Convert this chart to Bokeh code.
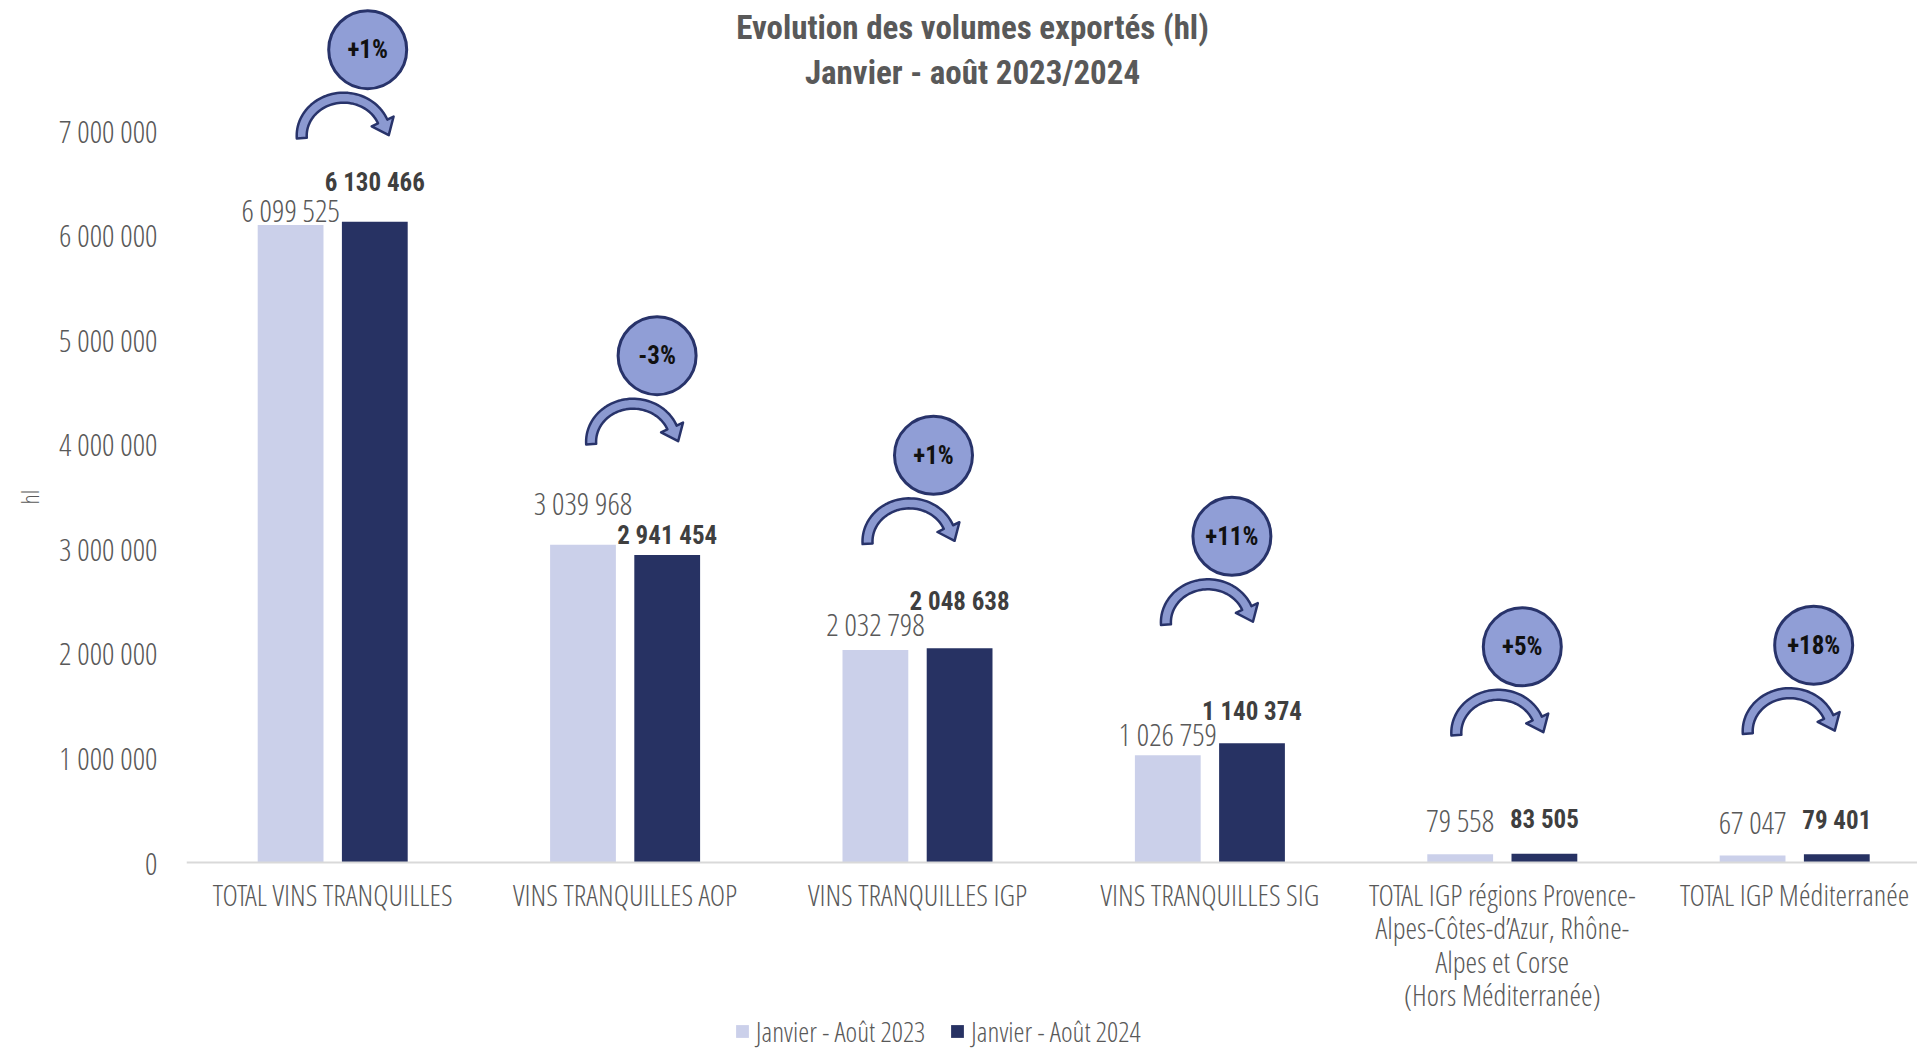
import numpy as np
from bokeh.plotting import figure
from bokeh.models import Range1d, FixedTicker, Legend, LegendItem, ColumnDataSource, Title
from bokeh.core.properties import value
from bokeh.embed import file_html
from bokeh.resources import INLINE

# ---------------- data ----------------
categories = [
    "TOTAL VINS TRANQUILLES",
    "VINS TRANQUILLES AOP",
    "VINS TRANQUILLES IGP",
    "VINS TRANQUILLES SIG",
    "TOTAL IGP régions Provence-\nAlpes-Côtes-d’Azur, Rhône-\nAlpes et Corse\n(Hors Méditerranée)",
    "TOTAL IGP Méditerranée",
]
vol_2023 = [6099525, 3039968, 2032798, 1026759, 79558, 67047]
vol_2024 = [6130466, 2941454, 2048638, 1140374, 83505, 79401]
series_names = ["Janvier - Août 2023", "Janvier - Août 2024"]
y_ticks = [0, 1000000, 2000000, 3000000, 4000000, 5000000, 6000000, 7000000]
y_tick_labels = ["0", "1 000 000", "2 000 000", "3 000 000", "4 000 000",
                 "5 000 000", "6 000 000", "7 000 000"]
title_lines = ["Evolution des volumes exportés (hl)", "Janvier - août 2023/2024"]
y_axis_title = "hl"

# ---------------- layout / style (pixels) ----------------
FONT = "Open Sans Condensed Light"
FONT_B = "Roboto Condensed"
C_LIGHT = "#CBD0EA"
C_DARK = "#273263"
C_TEXT = "#595959"
C_CIRCLE = "#909ED6"
C_EDGE = "#28336A"

FRAME_W, FRAME_H = 1731, 1052
BASE_PX = 862                     # baseline (value 0) from frame top
X0, X1 = -0.5, 5.42
PPY = 104.53e-6                   # px per unit of value
YMAX = BASE_PX / PPY
YMIN = -(FRAME_H - BASE_PX) / PPY
PPX = FRAME_W / (X1 - X0)

BAR_W = 0.225
OFF = 0.144
label_dy_2023 = [15, 42, 26, 21, 34, 33]   # px above bar top (label centre)
label_dy_2024 = [39, 20, 47, 32, 34, 34]
circle_dx = [35, 32, 16, 22, 20, 19]        # px from group centre
circle_dy = [172, 189, 193, 207, 207, 209]  # px above highest bar

n = len(categories)
xs = np.arange(n, dtype=float)

p = figure(frame_width=FRAME_W, frame_height=FRAME_H,
           x_range=Range1d(X0, X1), y_range=Range1d(YMIN, YMAX),
           output_backend="svg", toolbar_location=None,
           min_border_left=186, min_border_right=0, min_border_top=0,
           min_border_bottom=0)
p.outline_line_color = None
p.xgrid.visible = False
p.ygrid.visible = False
p.background_fill_color = "white"

src = ColumnDataSource(dict(
    x23=xs - OFF, x24=xs + OFF, v23=vol_2023, v24=vol_2024,
))
r23 = p.vbar(x="x23", top="v23", bottom=0, width=BAR_W, source=src, fill_color=C_LIGHT, line_color=None)
r24 = p.vbar(x="x24", top="v24", bottom=0, width=BAR_W, source=src, fill_color=C_DARK, line_color=None)

def fmt(v):
    return f"{v:,}".replace(",", " ")

lab23 = ColumnDataSource(dict(x=xs - OFF, y=vol_2023, t=[fmt(v) for v in vol_2023],
                              dy=[-d for d in label_dy_2023]))
lab24 = ColumnDataSource(dict(x=xs + OFF, y=vol_2024, t=[fmt(v) for v in vol_2024],
                              dy=[-d for d in label_dy_2024]))
p.text(x="x", y="y", text="t", y_offset="dy", source=lab23, text_align="center",
       text_baseline="middle", text_font=value(FONT), text_font_size="31px",
       text_color=C_TEXT)
p.text(x="x", y="y", text="t", y_offset="dy", source=lab24, text_align="center",
       text_baseline="middle", text_font=value(FONT_B), text_font_size="25px",
       text_font_style="bold", text_color="#3F3F3F")

# variation bubbles
pct = [round((b / a - 1) * 100) for a, b in zip(vol_2023, vol_2024)]
pct_txt = [f"{d:+d}%" for d in pct]
top = [max(a, b) for a, b in zip(vol_2023, vol_2024)]
cx = [x + dx / PPX for x, dx in zip(xs, circle_dx)]
cy = [t + dy / PPY for t, dy in zip(top, circle_dy)]

# curved arrows (shape in px relative to bubble centre, y up)
def arrow(cxd, cyd):
    acx, acy, rx, ry, h = -24.0, -86.0, 42.0, 38.0, 5.0
    te = np.radians(22)
    th = np.linspace(np.pi * 1.02, te, 50)
    ox = acx + (rx + h) * np.cos(th); oy = acy + (ry + h) * np.sin(th)
    ix = acx + (rx - h) * np.cos(th); iy = acy + (ry - h) * np.sin(th)
    bx, by = acx + rx * np.cos(te), acy + ry * np.sin(te)
    tx, ty = rx * np.sin(te), -ry * np.cos(te)
    L = np.hypot(tx, ty); tx /= L; ty /= L
    nx, ny = -ty, tx
    wo = (bx + nx * 12, by + ny * 12)
    wi = (bx - nx * 12, by - ny * 12)
    tip = (bx + tx * 15, by + ty * 15)
    px = list(ox) + [wo[0], tip[0], wi[0]] + list(ix[::-1])
    py = list(oy) + [wo[1], tip[1], wi[1]] + list(iy[::-1])
    return [cxd + v / PPX for v in px], [cyd + v / PPY for v in py]

axs, ays = [], []
for a, b in zip(cx, cy):
    X, Y = arrow(a, b)
    axs.append(X); ays.append(Y)
p.patches(axs, ays, fill_color="#8B99D0", line_color=C_EDGE, line_width=2.5, line_join="round")

p.scatter(cx, cy, marker="circle", size=78, fill_color=C_CIRCLE, line_color=C_EDGE, line_width=3)
p.text(cx, cy, text=pct_txt, text_align="center", text_baseline="middle",
       text_font=value(FONT_B), text_font_size="25px", text_font_style="bold", text_color="#111111")

# title (inside frame, positioned from top)
title_x = X0 + (972 - 186) / PPX
p.text([title_x, title_x], [YMAX - 27 / PPY, YMAX - 72 / PPY], text=title_lines,
       text_align="center", text_baseline="middle", text_font=value(FONT_B),
       text_font_size="33px", text_font_style="bold", text_color=C_TEXT)

# axes
xa = p.xaxis[0]
xa.fixed_location = 0
xa.ticker = FixedTicker(ticks=list(range(n)))
xa.major_label_overrides = {i: c for i, c in enumerate(categories)}
xa.axis_line_color = "#D9D9D9"
xa.axis_line_width = 2
xa.major_tick_line_color = None
xa.minor_tick_line_color = None
xa.major_label_standoff = 5
xa.major_label_text_font = FONT
xa.major_label_text_font_size = "29.5px"
xa.major_label_text_line_height = 0.82
xa.major_label_text_color = C_TEXT

ya = p.yaxis[0]
ya.ticker = FixedTicker(ticks=y_ticks)
ya.major_label_overrides = {t: l for t, l in zip(y_ticks, y_tick_labels)}
ya.axis_line_color = None
ya.major_tick_line_color = None
ya.minor_tick_line_color = None
ya.major_label_standoff = 23
ya.major_label_text_font = FONT
ya.major_label_text_font_size = "31px"
ya.major_label_text_color = C_TEXT

ytitle = Title(text=y_axis_title, align="left", offset=FRAME_H - 504, vertical_align="top",
               text_font=FONT, text_font_size="24px", text_font_style="normal",
               text_color=C_TEXT, standoff=18)
p.add_layout(ytitle, "left")

# legend inside the (extended) frame, under the category labels
legend = Legend(items=[LegendItem(label=series_names[0], renderers=[r23]),
                       LegendItem(label=series_names[1], renderers=[r24])],
                orientation="horizontal", location=(548, 2),
                label_text_font=FONT, label_text_font_size="28px",
                label_text_line_height=0.8,
                label_text_color=C_TEXT, glyph_width=16, glyph_height=16,
                label_standoff=6, spacing=24, padding=0, margin=0,
                border_line_color=None, background_fill_alpha=0)
p.add_layout(legend, "center")

open("out.html", "w").write(file_html(p, INLINE))
